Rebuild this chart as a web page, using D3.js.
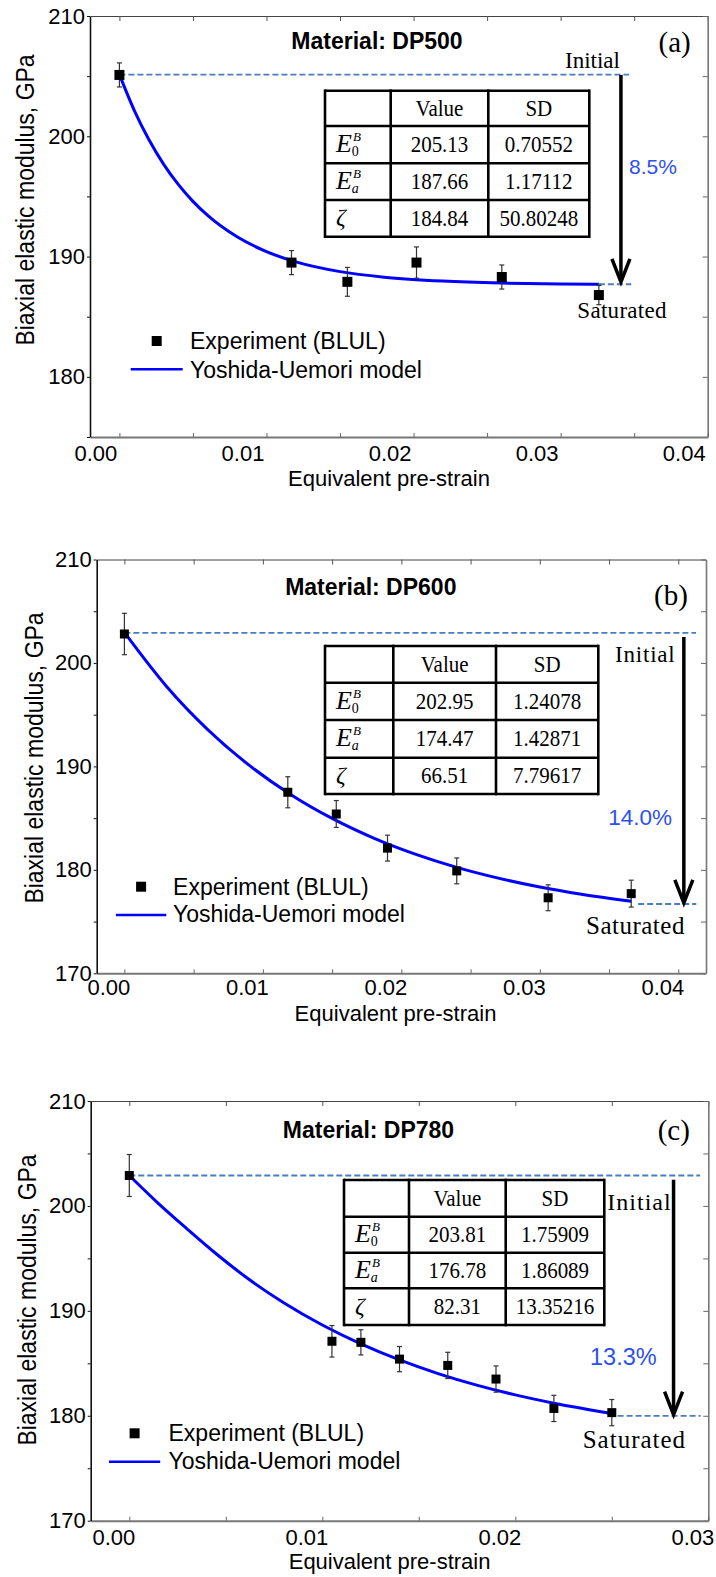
<!DOCTYPE html>
<html><head><meta charset="utf-8">
<script src="https://cdn.jsdelivr.net/npm/d3@7"></script>
<style>body{margin:0;background:#fff} svg{display:block}</style>
</head><body>
<svg id="chart" width="716" height="1577"></svg>
<script>
// ================= DATA =================
const materials = ["DP500", "DP600", "DP780"];
const panelLetters = ["(a)", "(b)", "(c)"];
const legendLabels = ["Experiment (BLUL)", "Yoshida-Uemori model"];
const xAxisTitle = "Equivalent pre-strain";
const yAxisTitle = "Biaxial elastic modulus, GPa";
const tableHeader = ["", "Value", "SD"];

// experiment (BLUL) points
const expStrainA = [0, 0.0117, 0.0155, 0.0202, 0.0260, 0.0326];
const expModA    = [205.1, 189.5, 187.9, 189.5, 188.3, 186.8];
const expErrA    = [1.0, 1.0, 1.2, 1.3, 1.0, 0.8];
const expStrainB = [0, 0.0118, 0.0153, 0.0190, 0.0240, 0.0306, 0.0366];
const expModB    = [202.8, 187.5, 185.4, 182.1, 179.9, 177.3, 177.7];
const expErrB    = [2.0, 1.5, 1.3, 1.25, 1.25, 1.25, 1.3];
const expStrainC = [0, 0.0105, 0.0120, 0.0140, 0.0165, 0.0190, 0.0220, 0.0250];
const expModC    = [202.9, 187.1, 187.0, 185.4, 184.8, 183.5, 180.7, 180.3];
const expErrC    = [2.0, 1.5, 1.2, 1.2, 1.25, 1.25, 1.25, 1.25];

// Yoshida-Uemori model curve
const modelStrainA = [0, 0.001, 0.002, 0.003, 0.004, 0.005, 0.006, 0.008, 0.010, 0.012, 0.015, 0.018, 0.022, 0.026, 0.030, 0.0326];
const modelModA    = [205.13, 202.18, 199.73, 197.69, 196.00, 194.59, 193.42, 191.64, 190.41, 189.56, 188.75, 188.29, 187.96, 187.80, 187.73, 187.70];
const modelStrainB = [0, 0.003, 0.006, 0.009, 0.012, 0.015, 0.018, 0.021, 0.024, 0.027, 0.030, 0.033, 0.0366];
const modelModB    = [202.95, 197.80, 193.58, 190.12, 187.29, 184.97, 183.07, 181.52, 180.24, 179.20, 178.34, 177.64, 176.97];
const modelStrainC = [0, 0.0015, 0.003, 0.0045, 0.006, 0.008, 0.010, 0.012, 0.014, 0.016, 0.018, 0.020, 0.022, 0.0251];
const modelModC    = [202.9, 200.25, 197.8, 195.44, 193.27, 190.77, 188.65, 186.85, 185.32, 184.02, 182.92, 181.99, 181.20, 180.20];

// fitted parameter tables
const paramValueA = ["205.13", "187.66", "184.84"];
const paramSDA    = ["0.70552", "1.17112", "50.80248"];
const paramValueB = ["202.95", "174.47", "66.51"];
const paramSDB    = ["1.24078", "1.42871", "7.79617"];
const paramValueC = ["203.81", "176.78", "82.31"];
const paramSDC    = ["1.75909", "1.86089", "13.35216"];

// reference levels / reduction
const reductionLabels = ["8.5%", "14.0%", "13.3%"];
const initialLevel   = [205.13, 202.9, 202.9];
const initialEnd     = [0.03465, 0.04128, 0.02957];
const saturatedLevel = [187.7, 176.7, 180.0];
const saturatedSpan  = [[0.0326, 0.0348], [0.0371, 0.0413], [0.0253, 0.0296]];
const arrowStrain    = [0.0341, 0.0404, 0.0282];
const arrowFrom      = [205.1, 202.5, 202.5];
const arrowTo        = [187.9, 176.8, 180.1];

// axes
const xDomains = [[-0.002, 0.04], [-0.002, 0.042], [-0.002, 0.03]];
const yDomains = [[175, 210], [170, 210], [170, 210]];
const xMajorTicks = [[0, 0.01, 0.02, 0.03, 0.04], [0, 0.01, 0.02, 0.03, 0.04], [0, 0.01, 0.02, 0.03]];
const xMinorTicks = [
  [0, 0.005, 0.01, 0.015, 0.02, 0.025, 0.03, 0.035, 0.04],
  [0, 0.005, 0.01, 0.015, 0.02, 0.025, 0.03, 0.035, 0.04],
  [0, 0.005, 0.01, 0.015, 0.02, 0.025, 0.03]];
const yMajorTicks = [[180, 190, 200, 210], [170, 180, 190, 200, 210], [170, 180, 190, 200, 210]];
const yMinorTicks = [[175, 180, 185, 190, 195, 200, 205, 210], [170, 175, 180, 185, 190, 195, 200, 205, 210], [170, 175, 180, 185, 190, 195, 200, 205, 210]];

// ================= LAYOUT =================
const SANS = "'Liberation Sans', Arial, Helvetica, sans-serif";
const SERIF = "'Liberation Serif', 'Times New Roman', Times, serif";
const BLUE = "#0000ff";
const DASH = "#4a7cc4";
const PCT = "#2d50f0";

const layout = [
  { left: 90, right: 707.7, top: 16, bottom: 437, xLabelShift: -24, xLabelPad: 8.5,
    yTitle: [34, 200], xTitle: [389, 485.5], title: [377, 49.3], letter: [674.7, 51.5],
    table: { x: [325, 390.7, 488.3, 589.3], y: [90.7, 126, 163.3, 200, 236.7] },
    legend: { mx: 156.7, my: 341, tx: 190, t1y: 349, lx1: 130.7, lx2: 182.7, ly: 369.3, t2y: 377.7 },
    initial: { x: 565, y: 68.3, size: 23, ls: 0 },
    saturated: { x: 577.3, y: 318.3, size: 23, ls: 0.3 },
    pct: { x: 629, y: 174, size: 21 }, marker: 10 },
  { left: 96.7, right: 706, top: 559.5, bottom: 973.3, xLabelShift: -16, xLabelPad: 6.5,
    yTitle: [43, 758], xTitle: [395.5, 1020.7], title: [370.8, 595], letter: [671, 604.5],
    table: { x: [325, 393.3, 496, 598.3], y: [646, 682.7, 720, 757.7, 794] },
    legend: { mx: 141.1, my: 886.7, tx: 173.1, t1y: 895, lx1: 115.9, lx2: 166.3, ly: 915, t2y: 921.7 },
    initial: { x: 615, y: 661.7, size: 23, ls: 0.8 },
    saturated: { x: 586, y: 934, size: 25, ls: 0.5 },
    pct: { x: 608.3, y: 825, size: 22.5 }, marker: 9 },
  { left: 90.7, right: 708.3, top: 1101, bottom: 1520.7, xLabelShift: -16, xLabelPad: 8.5,
    yTitle: [36, 1300], xTitle: [389.6, 1569], title: [368.5, 1138.3], letter: [673.8, 1139.8],
    table: { x: [344, 409, 505.7, 604.3], y: [1180, 1216.7, 1252.7, 1288.3, 1325] },
    legend: { mx: 134.6, my: 1433.3, tx: 168.5, t1y: 1441, lx1: 109, lx2: 160.2, ly: 1461.7, t2y: 1469.3 },
    initial: { x: 607.3, y: 1210, size: 24, ls: 1 },
    saturated: { x: 582.7, y: 1448.3, size: 25, ls: 1 },
    pct: { x: 590, y: 1365, size: 23.5 }, marker: 9 }
];

const panels = [
  { exp: [expStrainA, expModA, expErrA], model: [modelStrainA, modelModA], vals: paramValueA, sds: paramSDA },
  { exp: [expStrainB, expModB, expErrB], model: [modelStrainB, modelModB], vals: paramValueB, sds: paramSDB },
  { exp: [expStrainC, expModC, expErrC], model: [modelStrainC, modelModC], vals: paramValueC, sds: paramSDC }
];

const svg = d3.select("#chart");

function drawPanel(i) {
  const L = layout[i], P = panels[i];
  const g = svg.append("g");
  const x = d3.scaleLinear().domain(xDomains[i]).range([L.left, L.right]);
  const y = d3.scaleLinear().domain(yDomains[i]).range([L.bottom, L.top]);

  // ---- frame & axes ----
  const top = g.append("g").attr("transform", `translate(0,${L.top})`)
    .call(d3.axisTop(x).tickValues(xMinorTicks[i]).tickSize(-5).tickSizeOuter(0).tickFormat(""));
  top.select(".domain").attr("stroke", "#444").attr("stroke-width", 1);
  top.selectAll(".tick line").attr("stroke", "#555");

  const right = g.append("g").attr("transform", `translate(${L.right},0)`)
    .call(d3.axisRight(y).tickValues(yMinorTicks[i]).tickSize(-5).tickSizeOuter(0).tickFormat(""));
  right.select(".domain").attr("stroke", "#777").attr("stroke-width", 1.6);
  right.selectAll(".tick line").attr("stroke", "#666");

  const bottom = g.append("g").attr("transform", `translate(0,${L.bottom})`)
    .call(d3.axisBottom(x).tickValues(xMinorTicks[i]).tickSize(-4).tickSizeOuter(0).tickFormat(""));
  bottom.select(".domain").attr("stroke", "#777").attr("stroke-width", 2);
  bottom.selectAll(".tick line").attr("stroke", "#666");

  const bottomLab = g.append("g").attr("transform", `translate(0,${L.bottom})`)
    .call(d3.axisBottom(x).tickValues(xMajorTicks[i]).tickSize(0).tickPadding(L.xLabelPad).tickFormat(d3.format(".2f")));
  bottomLab.select(".domain").remove();
  bottomLab.selectAll("text").attr("font-family", SANS).attr("font-size", 22)
    .attr("fill", "#000").attr("dx", L.xLabelShift);

  const leftAx = g.append("g").attr("transform", `translate(${L.left},0)`)
    .call(d3.axisLeft(y).tickValues(yMinorTicks[i]).tickSize(3).tickSizeOuter(0).tickPadding(2)
      .tickFormat(d => yMajorTicks[i].includes(d) ? d3.format("d")(d) : ""));
  leftAx.select(".domain").attr("stroke", "#111").attr("stroke-width", 1.6);
  leftAx.selectAll(".tick line").attr("stroke", "#111");
  leftAx.selectAll("text").attr("font-family", SANS).attr("font-size", 22).attr("fill", "#000");

  // axis titles
  g.append("text").attr("transform", `translate(${L.yTitle[0]},${L.yTitle[1]}) rotate(-90) scale(1,1.15)`)
    .attr("text-anchor", "middle").attr("font-family", SANS).attr("font-size", 23).text(yAxisTitle);
  g.append("text").attr("x", L.xTitle[0]).attr("y", L.xTitle[1]).attr("text-anchor", "middle")
    .attr("font-family", SANS).attr("font-size", 22).text(xAxisTitle);

  // title & panel letter
  g.append("text").attr("x", L.title[0]).attr("y", L.title[1]).attr("text-anchor", "middle")
    .attr("font-family", SANS).attr("font-weight", "bold").attr("font-size", 23).text("Material: " + materials[i]);
  g.append("text").attr("x", L.letter[0]).attr("y", L.letter[1]).attr("text-anchor", "middle")
    .attr("font-family", SERIF).attr("font-size", 29).text(panelLetters[i]);

  // ---- reference lines ----
  g.append("line").attr("x1", x(0)).attr("x2", x(initialEnd[i]))
    .attr("y1", y(initialLevel[i])).attr("y2", y(initialLevel[i]))
    .attr("stroke", DASH).attr("stroke-width", 1.8).attr("stroke-dasharray", "6,3");
  g.append("line").attr("x1", x(saturatedSpan[i][0])).attr("x2", x(saturatedSpan[i][1]))
    .attr("y1", y(saturatedLevel[i])).attr("y2", y(saturatedLevel[i]))
    .attr("stroke", DASH).attr("stroke-width", 1.8).attr("stroke-dasharray", "6,3");

  // arrow
  const ax = x(arrowStrain[i]), ay1 = y(arrowFrom[i]), ay2 = y(arrowTo[i]);
  g.append("line").attr("x1", ax).attr("x2", ax).attr("y1", ay1).attr("y2", ay2 - 2)
    .attr("stroke", "#000").attr("stroke-width", 3.5);
  g.append("path").attr("d", `M${ax - 9},${ay2 - 23} L${ax},${ay2} L${ax + 9},${ay2 - 23}`)
    .attr("fill", "none").attr("stroke", "#000").attr("stroke-width", 3.5).attr("stroke-linejoin", "miter");

  // labels
  g.append("text").attr("x", L.initial.x).attr("y", L.initial.y).attr("font-family", SERIF)
    .attr("font-size", L.initial.size).attr("letter-spacing", L.initial.ls).text("Initial");
  g.append("text").attr("x", L.saturated.x).attr("y", L.saturated.y).attr("font-family", SERIF)
    .attr("font-size", L.saturated.size).attr("letter-spacing", L.saturated.ls).text("Saturated");
  g.append("text").attr("x", L.pct.x).attr("y", L.pct.y).attr("font-family", SANS)
    .attr("font-size", L.pct.size).attr("fill", PCT).text(reductionLabels[i]);

  // ---- model curve ----
  const modelPts = P.model[0].map((s, k) => [s, P.model[1][k]]);
  g.append("path").datum(modelPts)
    .attr("d", d3.line().x(d => x(d[0])).y(d => y(d[1])).curve(d3.curveMonotoneX))
    .attr("fill", "none").attr("stroke", BLUE).attr("stroke-width", 3);

  // ---- experiment points with error bars ----
  const expPts = P.exp[0].map((s, k) => ({ s, v: P.exp[1][k], e: P.exp[2][k] }));
  const eb = g.append("g").attr("stroke", "#333").attr("stroke-width", 1.2);
  expPts.forEach(d => {
    const cx = x(d.s);
    eb.append("line").attr("x1", cx).attr("x2", cx).attr("y1", y(d.v - d.e)).attr("y2", y(d.v + d.e));
    eb.append("line").attr("x1", cx - 2.5).attr("x2", cx + 2.5).attr("y1", y(d.v - d.e)).attr("y2", y(d.v - d.e));
    eb.append("line").attr("x1", cx - 2.5).attr("x2", cx + 2.5).attr("y1", y(d.v + d.e)).attr("y2", y(d.v + d.e));
  });
  const m = L.marker;
  g.selectAll("rect.pt").data(expPts).enter().append("rect").attr("class", "pt")
    .attr("x", d => x(d.s) - m / 2).attr("y", d => y(d.v) - m / 2)
    .attr("width", m).attr("height", m).attr("fill", "#000");

  // ---- legend ----
  const lg = L.legend;
  g.append("rect").attr("x", lg.mx - 5).attr("y", lg.my - 5).attr("width", 10).attr("height", 10).attr("fill", "#000");
  g.append("text").attr("x", lg.tx).attr("y", lg.t1y).attr("font-family", SANS).attr("font-size", 23).text(legendLabels[0]);
  g.append("line").attr("x1", lg.lx1).attr("x2", lg.lx2).attr("y1", lg.ly).attr("y2", lg.ly)
    .attr("stroke", BLUE).attr("stroke-width", 2.6);
  g.append("text").attr("x", lg.tx).attr("y", lg.t2y).attr("font-family", SANS).attr("font-size", 23).text(legendLabels[1]);

  // ---- parameter table ----
  const T = L.table;
  const tg = g.append("g");
  tg.append("rect").attr("x", T.x[0]).attr("y", T.y[0]).attr("width", T.x[3] - T.x[0]).attr("height", T.y[4] - T.y[0])
    .attr("fill", "#fff").attr("stroke", "none");
  for (let c = 0; c < T.x.length; c++)
    tg.append("line").attr("x1", T.x[c]).attr("x2", T.x[c]).attr("y1", T.y[0] - 1.3).attr("y2", T.y[4] + 1.3)
      .attr("stroke", "#000").attr("stroke-width", 2.6);
  for (let r = 0; r < T.y.length; r++)
    tg.append("line").attr("x1", T.x[0]).attr("x2", T.x[3]).attr("y1", T.y[r]).attr("y2", T.y[r])
      .attr("stroke", "#000").attr("stroke-width", 2.6);
  const colC = [1, 2].map(c => (T.x[c] + T.x[c + 1]) / 2);
  const rowC = [0, 1, 2, 3].map(r => (T.y[r] + T.y[r + 1]) / 2);
  function cellText(cx, cy, s) {
    tg.append("text").attr("transform", `translate(${cx},${cy + 7.5}) scale(1,1.12)`)
      .attr("text-anchor", "middle").attr("font-family", SERIF).attr("font-size", 21).text(s);
  }
  cellText(colC[0], rowC[0], tableHeader[1]);
  cellText(colC[1], rowC[0], tableHeader[2]);
  for (let r = 0; r < 3; r++) {
    cellText(colC[0], rowC[r + 1], P.vals[r]);
    cellText(colC[1], rowC[r + 1], P.sds[r]);
  }
  // row symbols
  const subs = ["0", "a"];
  for (let r = 0; r < 2; r++) {
    const t = tg.append("text").attr("x", T.x[0] + 11).attr("y", rowC[r + 1] + 7.5)
      .attr("font-family", SERIF).attr("font-style", "italic");
    t.append("tspan").attr("font-size", 26).text("E");
    t.append("tspan").attr("font-size", 13).attr("dy", -11).attr("dx", 1).text("B");
    t.append("tspan").attr("font-size", 14).attr("dy", 15).attr("dx", -9)
      .attr("font-style", r === 0 ? "normal" : "italic").text(subs[r]);
  }
  tg.append("text").attr("x", T.x[0] + 11).attr("y", rowC[3] + 7).attr("font-family", SERIF)
    .attr("font-style", "italic").attr("font-size", 24).text("ζ");
}

[0, 1, 2].forEach(drawPanel);
</script>
</body></html>
